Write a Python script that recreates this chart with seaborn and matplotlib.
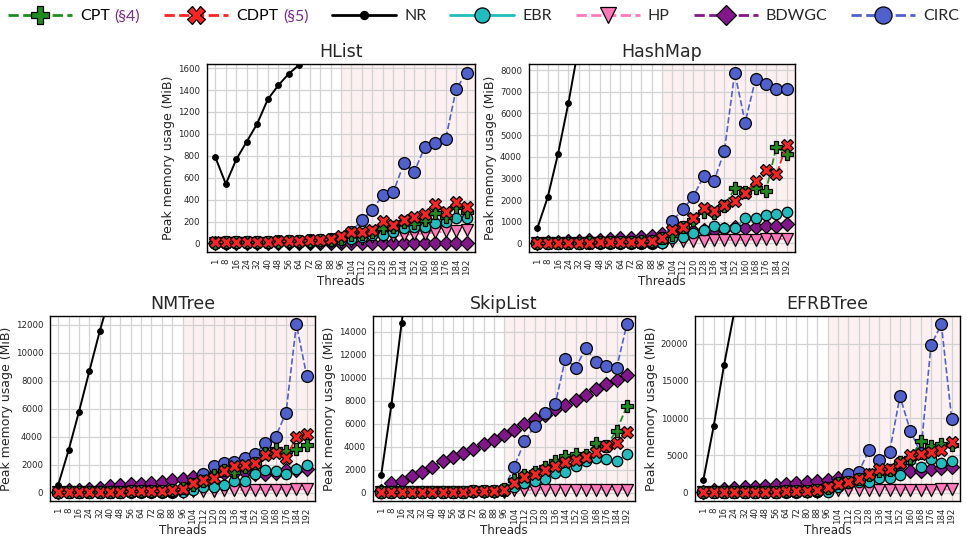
import numpy as np
import matplotlib
matplotlib.use("Agg")
import matplotlib.pyplot as plt
import seaborn as sns
from matplotlib.lines import Line2D
from matplotlib.offsetbox import TextArea, HPacker
from matplotlib.ticker import MultipleLocator

nan = np.nan

threads = [1, 8, 16, 24, 32, 40, 48, 56, 64, 72, 80, 88, 96,
           104, 112, 120, 128, 136, 144, 152, 160, 168, 176, 184, 192]

# ---- HList (MiB) ----
hlist_cpt = [8, 9, 10, 11, 12, 14, 16, 18, 20, 24, 28, 34, 45, 75, 90, 105, 137, 152, 198, 183, 213, 274, 244, 335, 290]
hlist_cdpt = [10, 11, 12, 13, 15, 17, 19, 21, 24, 28, 33, 40, 64, 107, 107, 125, 207, 165, 210, 241, 271, 363, 283, 381, 329]
hlist_nr = [786, 543, 768, 930, 1094, 1314, 1442, 1548, 1630] + [nan] * 16
hlist_ebr = [5, 6, 7, 8, 9, 10, 11, 12, 14, 16, 18, 22, 30, 40, 61, 76, 76, 107, 137, 152, 152, 183, 198, 235, 235]
hlist_hp = [2, 3, 3, 4, 4, 5, 5, 6, 6, 7, 8, 9, 10, 20, 40, 55, 67, 67, 76, 85, 90, 100, 110, 115, 122]
hlist_bdwgc = [2] * 25
hlist_circ = [6, 8, 10, 12, 14, 16, 18, 21, 24, 28, 33, 40, 52, 107, 213, 308, 442, 469, 731, 655, 878, 914, 954, 1408, 1560]

# ---- HashMap (MiB) ----
hashmap_cpt = [20, 25, 30, 35, 40, 45, 50, 60, 70, 90, 100, 120, 250, 385, 769, 1077, 1430, 1384, 1738, 2538, 2384, 2538, 2415, 4445, 4122]
hashmap_cdpt = [15, 20, 25, 30, 35, 40, 45, 55, 65, 80, 90, 110, 260, 615, 769, 1153, 1615, 1507, 1769, 1953, 2307, 2876, 3384, 3184, 4538]
hashmap_nr = [700, 2130, 4150, 6500, 9150] + [nan] * 20
hashmap_ebr = [5, 6, 7, 8, 9, 10, 11, 12, 13, 14, 15, 16, 20, 230, 308, 461, 615, 815, 692, 692, 1153, 1153, 1307, 1353, 1461]
hashmap_hp = [5, 6, 7, 8, 9, 10, 11, 12, 13, 14, 15, 16, 20, 100, 110, 120, 130, 140, 150, 160, 170, 180, 190, 200, 210]
hashmap_bdwgc = [40, 60, 80, 100, 120, 150, 175, 200, 230, 270, 310, 350, 420, 480, 530, 560, 600, 640, 690, 738, 720, 769, 800, 815, 877]
hashmap_circ = [10, 12, 14, 16, 18, 20, 22, 25, 28, 32, 36, 40, 80, 1046, 1569, 2153, 3092, 2876, 4260, 7890, 5583, 7582, 7352, 7152, 7121]

# ---- NMTree (MiB) ----
nmtree_cpt = [10, 20, 30, 40, 50, 60, 70, 80, 90, 100, 120, 150, 300, 573, 836, 1243, 1600, 1480, 1840, 2080, 2800, 3080, 2990, 3080, 3370]
nmtree_cdpt = [10, 20, 30, 40, 50, 60, 70, 80, 90, 100, 120, 150, 287, 693, 884, 1075, 1530, 1912, 1960, 2080, 2700, 2844, 2440, 3990, 4180]
nmtree_nr = [574, 3035, 5785, 8676, 11520, 14100] + [nan] * 19
nmtree_ebr = [5, 8, 10, 12, 14, 16, 18, 20, 22, 25, 28, 32, 50, 170, 400, 400, 570, 810, 810, 1360, 1600, 1550, 1360, 1720, 1960]
nmtree_hp = [10, 12, 14, 16, 18, 20, 22, 24, 26, 28, 30, 35, 40, 100, 120, 140, 160, 170, 180, 190, 200, 210, 220, 230, 240]
nmtree_bdwgc = [30, 170, 220, 290, 350, 450, 520, 600, 645, 717, 790, 885, 1000, 1120, 1240, 1360, 1400, 1400, 1480, 1360, 1360, 1400, 1600, 1620, 1720]
nmtree_circ = [10, 12, 14, 16, 18, 20, 22, 25, 28, 32, 36, 40, 200, 600, 1315, 1912, 2080, 2200, 2440, 2725, 3513, 3990, 5712, 12020, 8340]

# ---- SkipList (MiB) ----
skiplist_cpt = [20, 25, 30, 40, 50, 60, 70, 80, 90, 100, 120, 150, 300, 1100, 1540, 1830, 2270, 2765, 3143, 3347, 3288, 4307, 4074, 5383, 7508]
skiplist_cdpt = [20, 25, 30, 40, 50, 60, 70, 80, 90, 100, 120, 150, 233, 815, 1397, 1600, 1979, 2328, 2619, 2852, 3055, 3492, 4016, 4307, 5238]
skiplist_nr = [1513, 7655, 14783, 22000] + [nan] * 21
skiplist_ebr = [5, 8, 10, 12, 14, 16, 18, 20, 22, 25, 28, 32, 150, 520, 815, 1020, 1164, 1688, 1775, 2328, 2706, 2997, 2910, 2706, 3347]
skiplist_hp = [10, 12, 14, 16, 18, 20, 22, 24, 26, 28, 30, 35, 40, 200, 210, 220, 220, 230, 230, 240, 240, 250, 250, 260, 260]
skiplist_bdwgc = [100, 815, 1020, 1455, 1833, 2270, 2706, 3055, 3434, 3812, 4249, 4598, 5034, 5470, 5965, 6402, 6780, 7275, 7595, 8090, 8526, 9021, 9458, 9836, 10272]
skiplist_circ = [20, 25, 30, 40, 50, 60, 70, 80, 90, 100, 120, 150, 300, 2270, 4452, 5820, 6926, 7682, 11669, 10854, 12600, 11349, 11058, 10825, 14637]

# ---- EFRBTree (MiB) ----
efrb_cpt = [30, 40, 50, 60, 70, 90, 110, 130, 160, 200, 250, 300, 600, 1257, 1480, 1800, 2380, 2920, 3050, 4175, 4620, 6870, 6200, 6510, 6420]
efrb_cdpt = [30, 40, 50, 60, 70, 90, 110, 130, 160, 200, 250, 360, 800, 1170, 1480, 1840, 2470, 3190, 3190, 4040, 5070, 5160, 5430, 5750, 6735]
efrb_nr = [1660, 8890, 17080, 24300] + [nan] * 21
efrb_ebr = [10, 15, 20, 25, 30, 35, 40, 45, 50, 60, 70, 90, 130, 800, 1260, 1480, 1480, 1930, 2020, 2380, 4400, 3500, 4490, 4040, 4265]
efrb_hp = [20, 30, 40, 50, 60, 70, 80, 90, 100, 110, 120, 130, 150, 300, 320, 340, 350, 360, 370, 380, 390, 400, 410, 420, 430]
efrb_bdwgc = [100, 300, 450, 600, 700, 800, 950, 1050, 1200, 1350, 1450, 1600, 1750, 1950, 2150, 2250, 2350, 2550, 2700, 2800, 2850, 2950, 3150, 3250, 3450]
efrb_circ = [20, 30, 40, 50, 60, 70, 80, 90, 100, 120, 150, 200, 500, 1257, 2470, 2740, 5657, 4400, 5478, 12930, 8306, 5300, 19800, 22585, 9878]

benchmarks = {
    "HList": dict(CPT=hlist_cpt, CDPT=hlist_cdpt, NR=hlist_nr, EBR=hlist_ebr,
                  HP=hlist_hp, BDWGC=hlist_bdwgc, CIRC=hlist_circ),
    "HashMap": dict(CPT=hashmap_cpt, CDPT=hashmap_cdpt, NR=hashmap_nr, EBR=hashmap_ebr,
                    HP=hashmap_hp, BDWGC=hashmap_bdwgc, CIRC=hashmap_circ),
    "NMTree": dict(CPT=nmtree_cpt, CDPT=nmtree_cdpt, NR=nmtree_nr, EBR=nmtree_ebr,
                   HP=nmtree_hp, BDWGC=nmtree_bdwgc, CIRC=nmtree_circ),
    "SkipList": dict(CPT=skiplist_cpt, CDPT=skiplist_cdpt, NR=skiplist_nr, EBR=skiplist_ebr,
                     HP=skiplist_hp, BDWGC=skiplist_bdwgc, CIRC=skiplist_circ),
    "EFRBTree": dict(CPT=efrb_cpt, CDPT=efrb_cdpt, NR=efrb_nr, EBR=efrb_ebr,
                     HP=efrb_hp, BDWGC=efrb_bdwgc, CIRC=efrb_circ),
}
ytick_step = {"HList": 200, "HashMap": 1000, "NMTree": 2000, "SkipList": 2000, "EFRBTree": 5000}

scheme_order = ["CPT", "CDPT", "NR", "EBR", "HP", "BDWGC", "CIRC"]
legend_labels = {"CPT": ("CPT", "(§4)"), "CDPT": ("CDPT", "(§5)")}

style = {
    "CPT":   dict(color="#1e8c1e", marker="P", linestyle="--", markersize=8.5, lw=1.3, zorder=6),
    "CDPT":  dict(color="#ff2222", marker="X", linestyle="--", markersize=8.5, lw=1.3, zorder=7),
    "NR":    dict(color="black", marker="o", linestyle="-", markersize=4, lw=1.4, zorder=8),
    "EBR":   dict(color="#1fbdbd", marker="o", linestyle="-", markersize=7.5, lw=1.3, zorder=5),
    "HP":    dict(color="#ff78bb", marker="v", linestyle="--", markersize=8, lw=1.3, zorder=3),
    "BDWGC": dict(color="#84168c", marker="D", linestyle="--", markersize=7, lw=1.3, zorder=2),
    "CIRC":  dict(color="#5060cc", marker="o", linestyle="--", markersize=8.5, lw=1.2, zorder=4),
}

sns.set_style("whitegrid")
plt.rcParams["font.family"] = ["DejaVu Sans"]

W, H = 967, 537
fig = plt.figure(figsize=(W / 100, H / 100), dpi=100)

# axes boxes in pixels: left, right, top, bottom
boxes = {
    "HList":    (207, 475, 64, 252),
    "HashMap":  (529, 795, 64, 252),
    "NMTree":   (50, 315, 316, 501),
    "SkipList": (373, 635, 316, 501),
    "EFRBTree": (695, 960, 316, 501),
}

pos = np.arange(len(threads))
shade_start = threads.index(96)

for name, series in benchmarks.items():
    l, r, t, b = boxes[name]
    ax = fig.add_axes([l / W, 1 - b / H, (r - l) / W, (b - t) / H])
    ax.set_facecolor("white")

    for key in scheme_order:
        st = style[key]
        sns.lineplot(x=pos, y=np.array(series[key], dtype=float), ax=ax,
                     color=st["color"], marker=st["marker"], linestyle=st["linestyle"],
                     markersize=st["markersize"], linewidth=st["lw"],
                     markeredgecolor="black", markeredgewidth=0.9,
                     zorder=st["zorder"], errorbar=None, legend=False)

    top = max(np.nanmax(series[k]) for k in scheme_order if k != "NR")
    ax.set_ylim(-0.05 * top, 1.05 * top)
    ax.set_xlim(-0.8, len(threads) - 0.2)
    ax.axvspan(shade_start, len(threads), color="#fdf0f0", zorder=0, lw=0)

    ax.set_xticks(pos)
    ax.set_xticklabels([str(v) for v in threads], rotation=90, fontsize=6.2)
    ax.yaxis.set_major_locator(MultipleLocator(ytick_step[name]))
    ax.tick_params(axis="y", labelsize=6.2, pad=1.5)
    ax.tick_params(axis="x", pad=1.0)
    ax.grid(True, color="#d2d2d2", lw=0.9)
    ax.set_axisbelow(True)
    for sp in ax.spines.values():
        sp.set_color("black")
        sp.set_linewidth(1.0)
    ax.set_title(name, fontsize=12.5, pad=5)
    ax.set_xlabel("Threads", fontsize=8.5, labelpad=0.5)
    ax.set_ylabel("Peak memory usage (MiB)", fontsize=9, labelpad=2)

# shared legend across the top
handles = []
labels = []
for key in scheme_order:
    st = style[key]
    handles.append(Line2D([], [], color=st["color"], marker=st["marker"],
                          linestyle=st["linestyle"], markersize=st["markersize"] * 1.45,
                          linewidth=2.0, markeredgecolor="black", markeredgewidth=0.9))
    labels.append(" ".join(legend_labels[key]) if key in legend_labels else key)

leg_font = dict(family="Lato", size=11.5)
leg = fig.legend(handles, labels, loc="center", bbox_to_anchor=(0.5, 0.970), ncol=7,
                 frameon=False, handlelength=4.0, columnspacing=1.5, handletextpad=0.5,
                 prop=leg_font)

# colour the section references inside the CPT / CDPT entries
try:
    items = [it for col in leg._legend_handle_box.get_children() for it in col.get_children()]
    for idx, key in enumerate(scheme_order):
        if key not in legend_labels:
            continue
        base, ref = legend_labels[key]
        item = items[idx]
        tp = dict(fontfamily="Lato", fontsize=11.5)
        box = HPacker(children=[TextArea(base, textprops=dict(color="black", **tp)),
                                TextArea(ref, textprops=dict(color="#7b2a8c", **tp))],
                      pad=0, sep=3.5, align="baseline")
        box.set_figure(fig)
        item._children[1] = box
except Exception:
    pass

fig.savefig("out.png", dpi=100)
